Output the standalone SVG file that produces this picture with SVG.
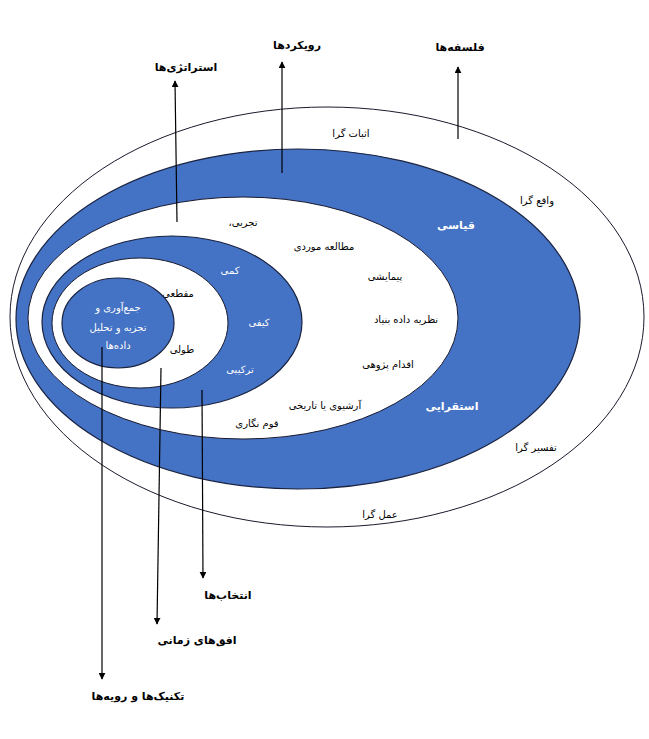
<svg xmlns="http://www.w3.org/2000/svg" width="649" height="739" viewBox="0 0 649 739">
<defs>
<marker id="ah" viewBox="0 0 10 10" refX="9" refY="5" markerWidth="7" markerHeight="7" orient="auto" markerUnits="userSpaceOnUse">
<path d="M0,0 L10,5 L0,10 z" fill="#000"/>
</marker>
<style>
.w{fill:#fff;stroke:#1a1a2e;stroke-width:1}
.b{fill:#4472C4;stroke:#1a2340;stroke-width:1.2}
text{font-family:"DejaVu Sans","Noto Sans",sans-serif;font-size:10px;text-anchor:middle;direction:rtl}
.k{fill:#000}
.wt{fill:#fff}
.lb{font-weight:bold;font-size:11px;fill:#000}
.bw{font-weight:bold;font-size:11px;fill:#fff}
.c{stroke:#000;stroke-width:1.2;fill:none;marker-end:url(#ah)}
</style>
</defs>
<rect width="649" height="739" fill="#fff"/>
<g id="philosophies">
<ellipse class="w" cx="327" cy="317" rx="317" ry="210"/>
<text class="k" x="351" y="137">اثبات گرا</text>
<text class="k" x="537" y="204">واقع گرا</text>
<text class="k" x="536" y="451">تفسیر گرا</text>
<text class="k" x="380" y="518">عمل گرا</text>
</g>
<g id="approaches">
<ellipse class="b" cx="298" cy="319" rx="282" ry="170"/>
<text class="bw" x="456" y="229">قیاسی</text>
<text class="bw" x="452" y="410">استقرایی</text>
</g>
<g id="strategies">
<ellipse class="w" cx="243" cy="318" rx="215" ry="121"/>
<text class="k" x="243" y="226">تجربی،</text>
<text class="k" x="324" y="250">مطالعه موردی</text>
<text class="k" x="385" y="280">پیمایشی</text>
<text class="k" x="406" y="323">نظریه داده بنیاد</text>
<text class="k" x="388" y="368">اقدام پژوهی</text>
<text class="k" x="325" y="409">آرشیوی یا تاریخی</text>
<text class="k" x="257" y="427">قوم نگاری</text>
</g>
<g id="choices">
<ellipse class="b" cx="172" cy="322" rx="130" ry="86"/>
<text class="wt" x="230" y="274">کمی</text>
<text class="wt" x="259" y="326">کیفی</text>
<text class="wt" x="240" y="373">ترکیبی</text>
</g>
<g id="time-horizons">
<ellipse class="w" cx="140" cy="323" rx="88" ry="65"/>
<text class="k" x="178" y="297">مقطعی</text>
<text class="k" x="182" y="353">طولی</text>
</g>
<g id="techniques">
<ellipse class="b" cx="118" cy="323" rx="56" ry="45"/>
<text class="wt" x="118" y="311">جمع‌آوری و</text>
<text class="wt" x="118" y="331">تجزیه و تحلیل</text>
<text class="wt" x="118" y="349">داده‌ها</text>
</g>
<g id="connectors">
<line class="c" x1="177" y1="222" x2="175" y2="81"/>
<line class="c" x1="282" y1="173" x2="282" y2="62"/>
<line class="c" x1="458" y1="139" x2="458" y2="67"/>
<line class="c" x1="202" y1="390" x2="203" y2="578"/>
<line class="c" x1="161" y1="368" x2="157" y2="624"/>
<line class="c" x1="102" y1="347" x2="102" y2="679"/>
</g>
<g id="labels">
<text class="lb" x="186" y="71">استراتژی‌ها</text>
<text class="lb" x="297" y="49">رویکردها</text>
<text class="lb" x="460" y="51">فلسفه‌ها</text>
<text class="lb" x="228" y="599">انتخاب‌ها</text>
<text class="lb" x="197" y="644">افق‌های زمانی</text>
<text class="lb" x="138" y="700">تکنیک‌ها و رویه‌ها</text>
</g>
</svg>
